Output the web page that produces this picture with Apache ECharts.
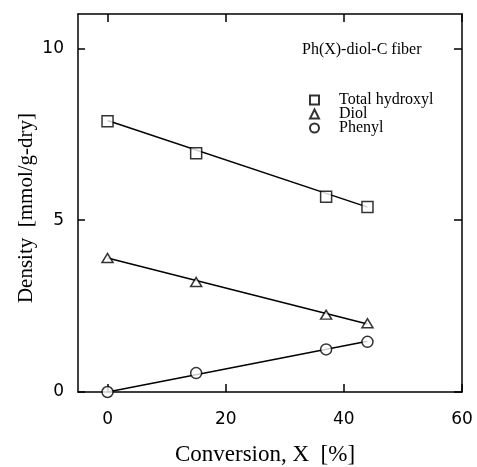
<!DOCTYPE html>
<html>
<head>
<meta charset="utf-8">
<script src="https://cdn.jsdelivr.net/npm/echarts@6/dist/echarts.min.js"></script>
<style>
html,body{margin:0;padding:0;background:#fff;}
#chart{width:477px;height:467px;}
</style>
</head>
<body>
<div id="chart"></div>
<script>
// Data
var conversion = [0, 15, 37, 44];
var totalHydroxyl = [7.88, 6.95, 5.68, 5.38];
var diol = [3.9, 3.2, 2.25, 2.0];
var phenyl = [0, 0.55, 1.24, 1.46];
// straight fitted lines (end points)
var fitX = [0, 44];
var totalFit = [7.9, 5.38];
var diolFit = [3.9, 1.98];
var phenylFit = [0, 1.48];
var xTicks = [0, 20, 40, 60];
var yTicks = [0, 5, 10];

function pairs(xs, ys) { return xs.map(function (x, i) { return [x, ys[i]]; }); }

var serif = 'Liberation Serif';
var sans = 'DejaVu Sans';
var markStyle = { color: '#fff', borderColor: '#000', borderWidth: 1.5 };
var axLine = { show: true, onZero: false, lineStyle: { color: '#000', width: 1.5 } };

var chart = echarts.init(document.getElementById('chart'), null, { renderer: 'canvas' });
chart.setOption({
  backgroundColor: '#fff',
  animation: false,
  title: {
    text: 'Ph(X)-diol-C fiber',
    left: 302, top: 42, padding: 0,
    textStyle: { fontFamily: serif, fontSize: 16, fontWeight: 'normal', color: '#000' }
  },
  legend: {
    orient: 'vertical',
    left: 304, top: 87,
    itemWidth: 9, itemHeight: 9, itemGap: -2,
    data: ['Total hydroxyl', 'Diol', 'Phenyl'],
    textStyle: { fontFamily: serif, fontSize: 16, lineHeight: 14, color: '#000', padding: [0, 0, 0, 15] }
  },
  grid: { left: 78, right: 15, top: 14, bottom: 75 },
  xAxis: [{
    type: 'value', min: -5, max: 60, position: 'bottom',
    axisLine: axLine,
    axisTick: { inside: true, length: 8, customValues: xTicks, lineStyle: { color: '#000', width: 1.5 } },
    axisLabel: { customValues: xTicks, margin: 19, fontFamily: sans, fontSize: 17, color: '#000' },
    splitLine: { show: false }
  }, {
    type: 'value', min: -5, max: 60, position: 'top',
    axisLine: axLine,
    axisTick: { inside: true, length: 8, customValues: xTicks, lineStyle: { color: '#000', width: 1.5 } },
    axisLabel: { show: false },
    splitLine: { show: false }
  }],
  yAxis: [{
    type: 'value', min: 0, max: 11, position: 'left',
    axisLine: axLine,
    axisTick: { show: true, inside: true, length: 7, customValues: yTicks, lineStyle: { color: '#000', width: 1.5 } },
    axisLabel: { customValues: yTicks, margin: 14, fontFamily: sans, fontSize: 17, color: '#000' },
    splitLine: { show: false }
  }, {
    type: 'value', min: 0, max: 11, position: 'right',
    axisLine: axLine,
    axisTick: { show: true, inside: true, length: 8, customValues: yTicks, lineStyle: { color: '#000', width: 1.5 } },
    axisLabel: { show: false },
    splitLine: { show: false }
  }],
  graphic: [{
    type: 'text', x: 265, y: 455,
    style: { text: 'Conversion, X  [%]', font: '23px "Liberation Serif"', fill: '#000', align: 'center', verticalAlign: 'middle' }
  }, {
    type: 'text', x: 26, y: 208, rotation: Math.PI / 2,
    style: { text: 'Density  [mmol/g-dry]', font: '21px "Liberation Serif"', fill: '#000', align: 'center', verticalAlign: 'middle' }
  }],
  series: [
    { type: 'line', data: pairs(fitX, totalFit), showSymbol: false, symbol: 'none', lineStyle: { color: '#000', width: 1.5 }, silent: true, z: 1 },
    { type: 'line', data: pairs(fitX, diolFit), showSymbol: false, symbol: 'none', lineStyle: { color: '#000', width: 1.5 }, silent: true, z: 1 },
    { type: 'line', data: pairs(fitX, phenylFit), showSymbol: false, symbol: 'none', lineStyle: { color: '#000', width: 1.5 }, silent: true, z: 1 },
    { name: 'Total hydroxyl', type: 'scatter', data: pairs(conversion, totalHydroxyl), symbol: 'rect', symbolSize: 11, itemStyle: markStyle, z: 3 },
    { name: 'Diol', type: 'scatter', data: pairs(conversion, diol), symbol: 'triangle', symbolSize: [11, 9], itemStyle: markStyle, z: 3 },
    { name: 'Phenyl', type: 'scatter', data: pairs(conversion, phenyl), symbol: 'circle', symbolSize: 11, itemStyle: markStyle, z: 3 }
  ]
});
</script>
</body>
</html>
